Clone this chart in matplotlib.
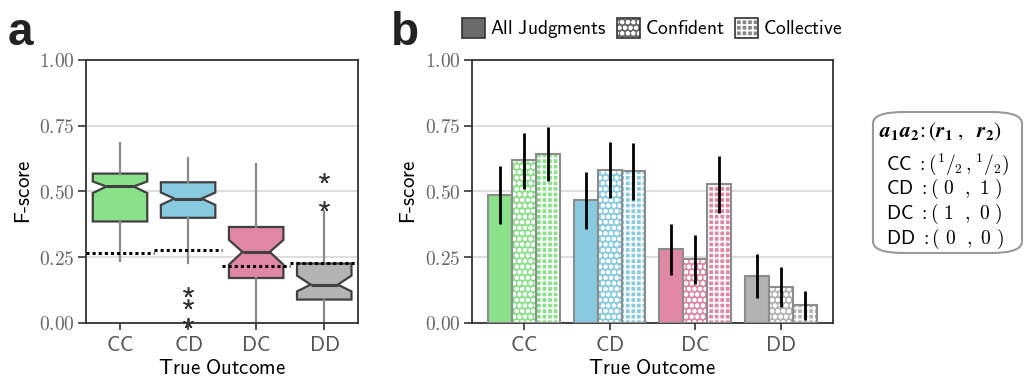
import numpy as np
import matplotlib
matplotlib.use("Agg")
import matplotlib.pyplot as plt
from matplotlib.patches import Patch, FancyBboxPatch

plt.rcParams["mathtext.fontset"] = "cm"
plt.rcParams["hatch.linewidth"] = 1.3

# categories and colours
outcomes = ["CC", "CD", "DC", "DD"]
colors = ["#8be08a", "#88cadf", "#e087a6", "#b3b3b3"]

# panel a: box statistics
box_med = [0.519, 0.473, 0.270, 0.146]
box_q1 = [0.386, 0.400, 0.171, 0.089]
box_q3 = [0.568, 0.535, 0.365, 0.226]
box_cilo = [0.494, 0.449, 0.222, 0.120]
box_cihi = [0.538, 0.496, 0.316, 0.180]
whis_lo = [0.234, 0.228, 0.0, 0.0]
whis_hi = [0.686, 0.629, 0.604, 0.425]
fliers = [[], [0.118, 0.073, 0.0, 0.0], [], [0.551, 0.446]]
chance = [0.266, 0.276, 0.218, 0.227]

# panel b: bar heights and error bar ends
series = ["All Judgments", "Confident", "Collective"]
bar_all = [0.486, 0.466, 0.280, 0.178]
bar_conf = [0.618, 0.582, 0.243, 0.138]
bar_coll = [0.643, 0.576, 0.527, 0.067]
err_lo_all = [0.377, 0.357, 0.181, 0.095]
err_hi_all = [0.595, 0.573, 0.376, 0.262]
err_lo_conf = [0.511, 0.477, 0.149, 0.061]
err_hi_conf = [0.722, 0.690, 0.335, 0.213]
err_lo_coll = [0.538, 0.468, 0.418, 0.010]
err_hi_coll = [0.747, 0.684, 0.635, 0.120]

yticks = [0.0, 0.25, 0.5, 0.75, 1.0]

fig = plt.figure(figsize=(10.26, 3.83), dpi=100)
ax_a = fig.add_axes([0.0838, 0.1567, 0.2654, 0.6867])
ax_b = fig.add_axes([0.4597, 0.1567, 0.3522, 0.6867])

def style_axes(ax):
    ax.set_ylim(0, 1)
    ax.set_yticks(yticks)
    ax.set_yticklabels([f"${v:.2f}$" for v in yticks])
    ax.set_xticks(range(4))
    ax.set_xticklabels([r"$\mathsf{%s}$" % o for o in outcomes])
    ax.tick_params(axis="y", length=6, width=1.2, color="#333333",
                   labelsize=14, labelcolor="#666666", pad=2)
    ax.tick_params(axis="x", length=5, width=1.2, color="#333333",
                   labelsize=15, labelcolor="#555555", pad=4)
    for s in ax.spines.values():
        s.set_color("#333333")
        s.set_linewidth(1.3)
    ax.grid(axis="y", color="#d4d4d4", lw=1.1)
    ax.set_axisbelow(True)
    ax.set_xlabel(r"$\mathsf{True\ Outcome}$", fontsize=15, labelpad=2)
    ax.set_ylabel(r"$\mathsf{F\text{-}score}$", fontsize=15, labelpad=4)

# ---- panel a ----
stats = []
for i in range(4):
    stats.append(dict(med=box_med[i], q1=box_q1[i], q3=box_q3[i],
                      cilo=box_cilo[i], cihi=box_cihi[i],
                      whislo=whis_lo[i], whishi=whis_hi[i],
                      fliers=fliers[i], label=outcomes[i]))
bp = ax_a.bxp(stats, positions=range(4), widths=0.8, shownotches=True,
              patch_artist=True, showcaps=False,
              boxprops=dict(edgecolor="#404040", linewidth=1.6),
              whiskerprops=dict(color="#8a8a8a", linewidth=1.6),
              medianprops=dict(color="#404040", linewidth=2.2),
              flierprops=dict(marker=(5, 2, 0), markersize=7.5,
                              markeredgecolor="#333333", markeredgewidth=1.1,
                              linestyle="none"))
for patch, c in zip(bp["boxes"], colors):
    patch.set_facecolor(c)
for fl in bp["fliers"]:
    fl.set_clip_on(False)
    fl.set_zorder(6)
for i in range(4):
    ax_a.hlines(chance[i], i - 0.5, i + 0.5, colors="black",
                linestyles=(0, (1, 1)), linewidth=2.2, zorder=5)
ax_a.set_xlim(-0.5, 3.5)
style_axes(ax_a)

# ---- panel b ----
w = 0.28
x = np.arange(4)
values = [bar_all, bar_conf, bar_coll]
lows = [err_lo_all, err_lo_conf, err_lo_coll]
highs = [err_hi_all, err_hi_conf, err_hi_coll]
hatches = [None, "ooo", "+++"]
for k in range(3):
    xs = x + (k - 1) * w
    vals = np.array(values[k])
    ax_b.bar(xs, vals, w, color=colors, linewidth=0, zorder=2)
    if hatches[k]:
        ax_b.bar(xs, vals, w, facecolor="none", edgecolor="white",
                 hatch=hatches[k], linewidth=0, zorder=3)
    ax_b.bar(xs, vals, w, facecolor="none", edgecolor="#8c8c8c",
             linewidth=1.5, zorder=4)
    ax_b.errorbar(xs, vals,
                  yerr=[vals - np.array(lows[k]), np.array(highs[k]) - vals],
                  fmt="none", ecolor="black", elinewidth=2, capsize=0, zorder=5)
ax_b.set_xlim(-0.61, 3.61)
style_axes(ax_b)

# legend
leg_gray = "#6b6b6b"
h_all = Patch(facecolor=leg_gray, edgecolor="#333333", linewidth=1.2)
h_conf = (Patch(facecolor=leg_gray, linewidth=0),
          Patch(facecolor="none", edgecolor="white", hatch="ooo", linewidth=0),
          Patch(facecolor="none", edgecolor="#333333", linewidth=1.2))
h_coll = (Patch(facecolor="#888888", linewidth=0),
          Patch(facecolor="none", edgecolor="white", hatch="+++", linewidth=0),
          Patch(facecolor="none", edgecolor="#333333", linewidth=1.2))
ax_b.legend([h_all, h_conf, h_coll],
            [r"$\mathsf{All\ Judgments}$", r"$\mathsf{Confident}$",
             r"$\mathsf{Collective}$"],
            loc="center", bbox_to_anchor=(652 / 1026, 1 - 29 / 383),
            bbox_transform=fig.transFigure, ncol=3, frameon=False,
            fontsize=14, handlelength=1.2, handleheight=1.2,
            handletextpad=0.25, columnspacing=0.5, borderaxespad=0)

# panel letters
fig.text(8 / 1026, 1 - 45 / 383, "a", fontsize=33, fontweight="bold",
         family="Liberation Sans", color="#222222")
fig.text(391 / 1026, 1 - 45 / 383, "b", fontsize=33, fontweight="bold",
         family="Liberation Sans", color="#222222")

# payoff box
box = FancyBboxPatch((873 / 1026, 1 - 253 / 383), 149 / 1026, 141 / 383,
                     boxstyle="round,pad=0,rounding_size=0.03",
                     transform=fig.transFigure, facecolor="white",
                     edgecolor="#999999", linewidth=1.5)
fig.patches.append(box)
fig.text(879 / 1026, 1 - 132 / 383,
         r"$\mathbfit{a}_\mathbf{1}\mathbfit{a}_\mathbf{2}\!:"
         r"(\mathbfit{r}_\mathbf{1}\ ,\ \ \mathbfit{r}_\mathbf{2})$",
         fontsize=15.5, va="center", ha="left", math_fontfamily="stix")
lines = [r"$\mathsf{CC}\ :(^1/_2\,,^1/_2)$",
         r"$\mathsf{CD}\ :(\ 0\ \ ,\ 1\ )$",
         r"$\mathsf{DC}\ :(\ 1\ \ ,\ 0\ )$",
         r"$\mathsf{DD}\ :(\ 0\ \ ,\ 0\ )$"]
ys = [164, 189, 214, 239]
for t, yy in zip(lines, ys):
    fig.text(886 / 1026, 1 - yy / 383, t, fontsize=14, va="center", ha="left")

fig.savefig("out.png", dpi=100)
